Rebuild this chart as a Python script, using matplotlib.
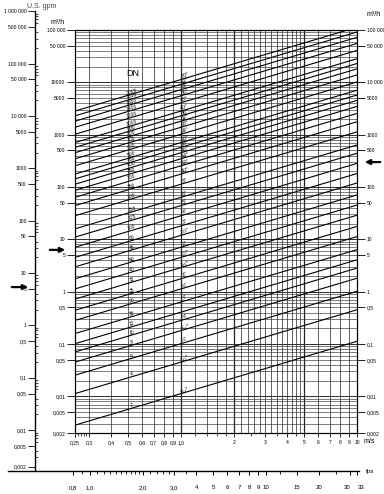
"""
Pipe flow nomogram: flow rate (m3/h, US gpm) vs velocity (m/s, fps) per pipe DN.
"""
import numpy as np
import matplotlib
matplotlib.use("Agg")
import matplotlib.pyplot as plt
from matplotlib.ticker import FixedLocator, FixedFormatter, NullFormatter

plt.rcParams["font.family"] = ["Liberation Sans", "DejaVu Sans"]

W, H = 384, 494

# --- data ---
dn_mm = [2000, 1800, 1600, 1400, 1200, 1000, 900, 800, 700, 600, 500, 450, 400,
         350, 300, 250, 200, 150, 125, 100, 80, 65, 50, 40, 32, 25, 20, 15, 12,
         10, 8, 6, 4, 2]
inch_labels = ['80"', '72"', '64"', '56"', '48"', '40"', '36"', '32"', '28"', '24"',
               '20"', '18"', '16"', '14"', '12"', '10"', '8"', '6"', '5"', '4"',
               '3"', '2½"', '2"', '1½"', '1¼"', '1"', '¾"', '½"', '',
               '⅜"', '⁵⁄₁₆"', '¼"', '⁵⁄₃₂"', '⁵⁄₆₄"']

v_grid = [0.25, 0.3, 0.4, 0.5, 0.6, 0.7, 0.8, 0.9, 1.0, 1.2, 1.4, 1.6, 1.8, 2.0,
          2.2, 2.4, 2.6, 2.8, 3.0, 3.25, 3.5, 3.75, 4.0, 4.25, 4.5, 4.75, 5.0,
          6, 7, 8, 9, 10]
v_heavy = [1.0, 2.0, 5.0]
v_ticks = [0.25, 0.3, 0.4, 0.5, 0.6, 0.7, 0.8, 0.9, 1.0, 2, 3, 4, 5, 6, 7, 8, 9, 10]
v_ticklabels = ["0,25", "0,3", "0,4", "0,5", "0,6", "0,7", "0,8", "0,9", "1,0",
                "2", "3", "4", "5", "6", "7", "8", "9", "10"]
v_minor = [0.26, 0.27, 0.28, 0.29, 1.2, 1.4, 1.6, 1.8, 2.5, 3.5, 4.5]

q_ticks = [1e5, 5e4, 1e4, 5e3, 1e3, 500, 100, 50, 10, 5, 1, 0.5, 0.1, 0.05,
           0.01, 0.005, 0.002]
q_left_labels = ["100 000", "50 000", "10000", "5000", "1000", "500", "100", "50",
                 "10", "5", "1", "0,5", "0,1", "0,05", "0,01", "0,005", "0,002"]
q_right_labels = ["100 000", "50 000", "10 000", "5000", "1000", "500", "100", "50",
                  "10", "5", "1", "0,5", "0,1", "0,05", "0,01", "0,005", "0,002"]

gpm_ticks = [1e6, 5e5, 1e5, 5e4, 1e4, 5e3, 1e3, 500, 100, 50, 10, 5, 1, 0.5,
             0.1, 0.05, 0.01, 0.005, 0.002]
gpm_labels = ["1 000 000", "500 000", "100 000", "50 000", "10 000", "5000", "1000",
              "500", "100", "50", "10", "5", "1", "0,5", "0,1", "0,05", "0,01",
              "0,005", "0,002"]

fps_ticks = [0.8, 1.0, 2.0, 3.0, 4, 5, 6, 7, 8, 9, 10, 15, 20, 30, 33]
fps_labels = ["0,8", "1,0", "2,0", "3,0", "4", "5", "6", "7", "8", "9", "10",
              "15", "20", "30", "33"]
fps_long = [1.0, 2.0, 10, 20, 33]
fps_minor = [0.9, 1.1, 1.2, 1.3, 1.4, 1.5, 1.6, 1.7, 1.8, 1.9, 2.2, 2.4, 2.6,
             2.8, 3.5, 12, 25]

arrow_m3h = [6.3, 300]      # marker arrows on the m3/h scale (left, right)
arrow_gpm = 5.4             # marker arrow on the gpm scale

GPM_PER_M3H = 4.403
FT = 0.3048

# --- geometry (pixels) ---
X0, X1, Y0, Y1 = 75, 357, 30, 433
V_LIM = (0.25, 10.0)
Q_LIM = (0.002, 100000.0)
YDEC = (Y1 - Y0) / np.log10(Q_LIM[1] / Q_LIM[0])
XDEC = (X1 - X0) / np.log10(V_LIM[1] / V_LIM[0])


def q_at(py):
    return Q_LIM[1] * 10 ** (-(py - Y0) / YDEC)


def v_at(px):
    return V_LIM[0] * 10 ** ((px - X0) / XDEC)


fig = plt.figure(figsize=(W / 100, H / 100), dpi=100)
ax = fig.add_axes([X0 / W, (H - Y1) / H, (X1 - X0) / W, (Y1 - Y0) / H])
ax.set_xscale("log")
ax.set_yscale("log")
ax.set_xlim(*V_LIM)
ax.set_ylim(*Q_LIM)

# grid
for v in v_grid:
    ax.axvline(v, color="#222222", lw=0.9 if v in v_heavy else 0.5, zorder=1)
for e in range(-3, 5):
    for k in range(1, 10):
        q = k * 10.0 ** e
        if Q_LIM[0] <= q <= Q_LIM[1]:
            ax.axhline(q, color="#333333", lw=0.75 if k == 1 else 0.45, zorder=1)
ax.axhline(1e5, color="#333333", lw=0.75, zorder=1)

# pipe lines
v_line = np.array(V_LIM)
ang = np.degrees(np.arctan(YDEC / XDEC))
for dn, inch in zip(dn_mm, inch_labels):
    area = np.pi * (dn / 1000.0) ** 2 / 4
    ax.plot(v_line, v_line * area * 3600, color="black", lw=0.8, zorder=2)
    ax.text(0.53, 0.53 * area * 3600, str(dn), fontsize=3.6, rotation=ang,
            rotation_mode="anchor", ha="center", va="bottom", zorder=3)
    if inch:
        ax.text(1.06, 1.06 * area * 3600, inch, fontsize=3.8, rotation=ang,
                rotation_mode="anchor", ha="center", va="bottom", zorder=3)
ax.text(0.53, q_at(73), "DN", fontsize=6.5, ha="center", va="center")

# axes ticks
for s in ax.spines.values():
    s.set_linewidth(0.8)
ax.xaxis.set_major_locator(FixedLocator(v_ticks))
ax.xaxis.set_major_formatter(FixedFormatter(v_ticklabels))
ax.xaxis.set_minor_locator(FixedLocator(v_minor))
ax.xaxis.set_minor_formatter(NullFormatter())
ax.tick_params(axis="x", which="major", labelsize=3.6, length=3, width=0.6, pad=2)
ax.tick_params(axis="x", which="minor", length=2, width=0.5)
ax.yaxis.set_major_locator(FixedLocator(q_ticks))
ax.yaxis.set_major_formatter(FixedFormatter(q_left_labels))
ax.yaxis.set_minor_locator(FixedLocator([]))
ax.tick_params(axis="y", which="major", labelsize=3.6, length=6, width=0.6, pad=1)
ax.text(1.045, -0.02, "m/s", transform=ax.transAxes, fontsize=5, ha="center",
        va="center")

rax = ax.twinx()
rax.set_yscale("log")
rax.set_ylim(*Q_LIM)
rax.yaxis.set_major_locator(FixedLocator(q_ticks))
rax.yaxis.set_major_formatter(FixedFormatter(q_right_labels))
rax.yaxis.set_minor_locator(FixedLocator([]))
rax.tick_params(axis="y", which="major", labelsize=3.6, length=6, width=0.6, pad=1)

fig.text(58 / W, 1 - 22 / H, "m³/h", fontsize=5, ha="center", va="center")
fig.text(374 / W, 1 - 14 / H, "m³/h", fontsize=5, ha="center", va="center")

# US gpm scale on the left
gax = fig.add_axes([35 / W, (H - 470) / H, 0.0001, (470 - 11) / H])
gax.set_facecolor("none")
for k in ("top", "right", "bottom"):
    gax.spines[k].set_visible(False)
gax.spines["left"].set_linewidth(1.0)
gax.set_yscale("log")
gax.set_ylim(q_at(470) * GPM_PER_M3H, q_at(11) * GPM_PER_M3H)
gax.set_xticks([])
gax.yaxis.set_major_locator(FixedLocator(gpm_ticks))
gax.yaxis.set_major_formatter(FixedFormatter(gpm_labels))
gax.yaxis.set_minor_locator(FixedLocator(
    [k * 10.0 ** e for e in range(-3, 7) for k in range(2, 10) if k != 5]))
gax.yaxis.set_minor_formatter(NullFormatter())
gax.tick_params(axis="y", which="major", labelsize=3.6, length=5, width=0.6,
                pad=1, direction="out")
gax.tick_params(axis="y", which="minor", length=2.5, width=0.5, direction="in")
fig.text(27 / W, 1 - 6 / H, "U.S. gpm", fontsize=5, color="#444444",
         ha="left", va="center")

# fps scale at the bottom
FX1 = 359
fax = fig.add_axes([8 / W, (H - 471) / H, (FX1 - 8) / W, 0.0001])
fax.set_facecolor("none")
for k in ("top", "right", "left"):
    fax.spines[k].set_visible(False)
fax.spines["bottom"].set_linewidth(1.0)
fax.set_xscale("log")
fax.set_xlim(v_at(8) / FT, v_at(FX1) / FT)
fax.set_yticks([])
fax.xaxis.set_major_locator(FixedLocator(fps_ticks))
fax.xaxis.set_major_formatter(FixedFormatter(fps_labels))
fax.xaxis.set_minor_locator(FixedLocator(fps_minor))
fax.xaxis.set_minor_formatter(NullFormatter())
fax.tick_params(axis="x", which="major", labelsize=4.3, length=3, width=0.7, pad=7)
fax.tick_params(axis="x", which="minor", length=2, width=0.6)
for t in fax.xaxis.get_major_ticks():
    if t.get_loc() in fps_long:
        t.tick1line.set_markersize(4.5)
# keep the crowded "30 33" pair readable
for lbl, loc in zip(fax.get_xticklabels(), fps_ticks):
    if loc == 30:
        lbl.set_ha("right")
    elif loc == 33:
        lbl.set_ha("left")
fig.text(370 / W, 1 - 471 / H, "fps", fontsize=4.5, ha="center", va="center")

# marker arrows
ap = dict(arrowstyle="-|>", color="black", lw=1.6, mutation_scale=7)
ax.annotate("", xy=((68 - X0) / (X1 - X0), arrow_m3h[0]),
            xytext=((47 - X0) / (X1 - X0), arrow_m3h[0]),
            xycoords=("axes fraction", "data"), textcoords=("axes fraction", "data"),
            arrowprops=ap, annotation_clip=False)
ax.annotate("", xy=((362 - X0) / (X1 - X0), arrow_m3h[1]),
            xytext=((383 - X0) / (X1 - X0), arrow_m3h[1]),
            xycoords=("axes fraction", "data"), textcoords=("axes fraction", "data"),
            arrowprops=ap, annotation_clip=False)
gax.annotate("", xy=(31 / W, arrow_gpm), xytext=(9 / W, arrow_gpm),
             xycoords=("figure fraction", "data"),
             textcoords=("figure fraction", "data"),
             arrowprops=ap, annotation_clip=False)

fig.savefig("out.png", dpi=100)
